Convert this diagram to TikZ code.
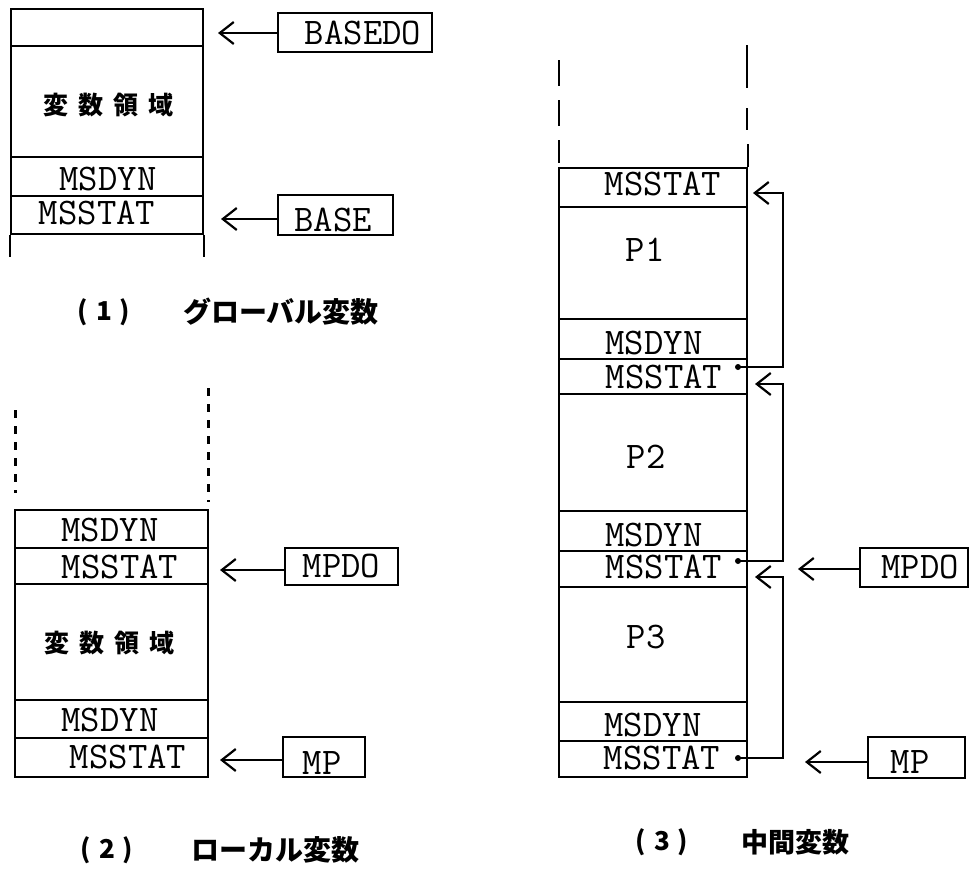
\documentclass[tikz,border=0pt]{standalone}
\usepackage{fontspec}
\newfontfamily\jp{Noto Sans CJK JP}
\usetikzlibrary{arrows.meta}
\tikzset{
  cell/.style={draw, line width=1.1pt, inner sep=0pt},
  ptr/.style={draw, line width=1.1pt, inner sep=0pt},
  lbl/.style={font=\fontsize{18.8}{20}\selectfont\ttfamily, inner sep=0pt},
  jlbl/.style={font=\fontsize{12.5}{14}\selectfont\jp\bfseries, inner sep=0pt},
  captxt/.style={font=\fontsize{14}{16}\selectfont\jp\bfseries, inner sep=0pt},
  capnum/.style={font=\fontsize{13}{15}\selectfont\jp\bfseries, inner sep=0pt},
  arr/.style={line width=1.1pt, -{Straight Barb[length=7pt,width=11pt,line width=1.1pt]}},
  link/.style={line width=0.9pt},
  side/.style={line width=1.1pt},
  dotst/.style={circle, fill, inner sep=0pt, minimum size=3pt},
}
\newcommand\hz{変\hspace{5pt}数\hspace{5pt}領\hspace{5pt}域}
\newcommand\pnum[1]{(\hspace{4pt}#1\hspace{4pt})}
\begin{document}
\begin{tikzpicture}[x=0.5pt,y=-0.5pt]
\useasboundingbox[fill=white] (0,0) rectangle (970,874);

% ---------- (1) global
\node[cell, minimum width=96pt, minimum height=18.5pt] (c1a) at (107,27.5) {};
\node[cell, minimum width=96pt, minimum height=55.5pt,
  label={[jlbl, xshift=0.5pt, yshift=-2pt]center:\hz}] (c1b) at (107,101.5) {};
\node[cell, minimum width=96pt, minimum height=19.5pt,
  label={[lbl, xshift=0.5pt, yshift=-1.25pt]center:MSDYN}] (c1c) at (107,176.5) {};
\node[cell, minimum width=96pt, minimum height=19pt,
  label={[lbl, xshift=-5pt, yshift=1pt]center:MSSTAT}] (c1d) at (107,215) {};
\draw[side] (c1d.south west) -- ++(0,22);
\draw[side] (c1d.south east) -- ++(0,22);

\node[ptr, minimum width=77pt, minimum height=19.5pt,
  label={[lbl, xshift=4pt]center:BASEDO}] (bA) at (355,32.5) {};
\node[ptr, minimum width=57.5pt, minimum height=20pt,
  label={[lbl, xshift=-1.25pt, yshift=-2.5pt]center:BASE}] (bB) at (335.5,215) {};
\coordinate (tA) at (218,33);
\coordinate (tB) at (221,219);
\draw[arr] (bA.west |- tA) -- (tA);
\draw[arr] (bB.west |- tB) -- (tB);

\node[capnum] (k1p) at (104,312) {\pnum{1}};
\node[captxt] (k1t) at (281,312) {グローバル変数};

% ---------- (2) local
\draw[line width=1.5pt, dash pattern=on 4pt off 4pt] (15,410) -- (15,493);
\draw[line width=1.5pt, dash pattern=on 4pt off 4pt] (208,388) -- (208,502);
\node[cell, minimum width=96.5pt, minimum height=19pt,
  label={[lbl, xshift=-0.75pt, yshift=-0.5pt]center:MSDYN}] (c2a) at (111.5,529) {};
\node[cell, minimum width=96.5pt, minimum height=18pt,
  label={[lbl, xshift=4.25pt, yshift=-0.5pt]center:MSSTAT}] (c2b) at (111.5,566) {};
\node[cell, minimum width=96.5pt, minimum height=58pt,
  label={[jlbl, xshift=-0.75pt, yshift=-0.5pt]center:\hz}] (c2c) at (111.5,642) {};
\node[cell, minimum width=96.5pt, minimum height=19pt,
  label={[lbl, xshift=-0.75pt, yshift=-0.5pt]center:MSDYN}] (c2d) at (111.5,719) {};
\node[cell, minimum width=96.5pt, minimum height=19.5pt,
  label={[lbl, xshift=8.25pt, yshift=0.25pt]center:MSSTAT}] (c2e) at (111.5,757.5) {};

\node[ptr, minimum width=56.5pt, minimum height=18.5pt,
  label={[lbl]center:MPDO}] (bC) at (341.5,566.5) {};
\node[ptr, minimum width=41pt, minimum height=20pt,
  label={[lbl, xshift=-1pt, yshift=-3pt]center:MP}] (bD) at (324,757) {};
\coordinate (tC) at (220,570);
\coordinate (tD) at (220,760);
\draw[arr] (bC.west |- tC) -- (tC);
\draw[arr] (bD.west |- tD) -- (tD);

\node[capnum] (k2p) at (107,850) {\pnum{2}};
\node[captxt] (k2t) at (275,850) {ローカル変数};

% ---------- (3) intermediate
\draw[side, dash pattern=on 13pt off 7pt] (559,60) -- (559,163);
\draw[side, dash pattern=on 21.5pt off 10pt] (747,45) -- (747,130);
\node[cell, minimum width=94pt, minimum height=19.5pt,
  label={[lbl, xshift=5pt, yshift=1.75pt]center:MSSTAT}] (c3a) at (653,187.5) {};
\draw[side] (c3a.north east) -- ++(0,-23);
\node[cell, minimum width=94pt, minimum height=56pt,
  label={[lbl, xshift=-4pt, yshift=6.5pt]center:P1}] (c3b) at (653,263) {};
\node[cell, minimum width=94pt, minimum height=20pt,
  label={[lbl, xshift=0.5pt, yshift=-2pt]center:MSDYN}] (c3c) at (653,339) {};
\node[cell, minimum width=94pt, minimum height=17.5pt,
  label={[lbl, xshift=5.5pt, yshift=-0.25pt]center:MSSTAT}] (c3d) at (653,376.5) {};
\node[cell, minimum width=94pt, minimum height=58.5pt,
  label={[lbl, xshift=-3.5pt, yshift=-2.25pt]center:P2}] (c3e) at (653,452.5) {};
\node[cell, minimum width=94pt, minimum height=20pt,
  label={[lbl, xshift=0.5pt, yshift=-2pt]center:MSDYN}] (c3f) at (653,531) {};
\node[cell, minimum width=94pt, minimum height=18pt,
  label={[lbl, xshift=5.5pt, yshift=1pt]center:MSSTAT}] (c3g) at (653,569) {};
\node[cell, minimum width=94pt, minimum height=57.5pt,
  label={[lbl, xshift=-3.5pt, yshift=3.75pt]center:P3}] (c3h) at (653,644.5) {};
\node[cell, minimum width=94pt, minimum height=19.5pt,
  label={[lbl, yshift=-1.75pt]center:MSDYN}] (c3i) at (653,721.5) {};
\node[cell, minimum width=94pt, minimum height=18pt,
  label={[lbl, xshift=4.5pt, yshift=0.5pt]center:MSSTAT}] (c3j) at (653,759) {};

% static links
\node[dotst] (d1) at (738,367) {};
\node[dotst] (d2) at (738,561) {};
\node[dotst] (d3) at (738,758) {};
\coordinate (a1) at (753,193);
\coordinate (a2) at (755,384);
\coordinate (a3) at (755,577);
\coordinate (v1) at (783,193);
\coordinate (v2) at (783,384);
\coordinate (v3) at (783,577);
\draw[link, -{Straight Barb[length=7pt,width=11pt,line width=1.1pt]}] (d1.center) -| (v1) -- (a1);
\draw[link, -{Straight Barb[length=7pt,width=11pt,line width=1.1pt]}] (d2.center) -| (v2) -- (a2);
\draw[link, -{Straight Barb[length=7pt,width=11pt,line width=1.1pt]}] (d3.center) -| (v3) -- (a3);

\node[ptr, minimum width=54pt, minimum height=19.5pt,
  label={[lbl, xshift=3pt]center:MPDO}] (bE) at (914,567.5) {};
\node[ptr, minimum width=48.5pt, minimum height=20.5pt,
  label={[lbl, xshift=-3.25pt, yshift=-2.25pt]center:MP}] (bF) at (916.5,757.5) {};
\coordinate (tE) at (798,569);
\coordinate (tF) at (805,762);
\draw[arr] (bE.west |- tE) -- (tE);
\draw[arr] (bF.west |- tF) -- (tF);

\node[capnum] (k3p) at (662,842) {\pnum{3}};
\node[captxt, font=\fontsize{13.5}{15}\selectfont\jp\bfseries] (k3t) at (795,842) {中間変数};
\end{tikzpicture}
\end{document}
